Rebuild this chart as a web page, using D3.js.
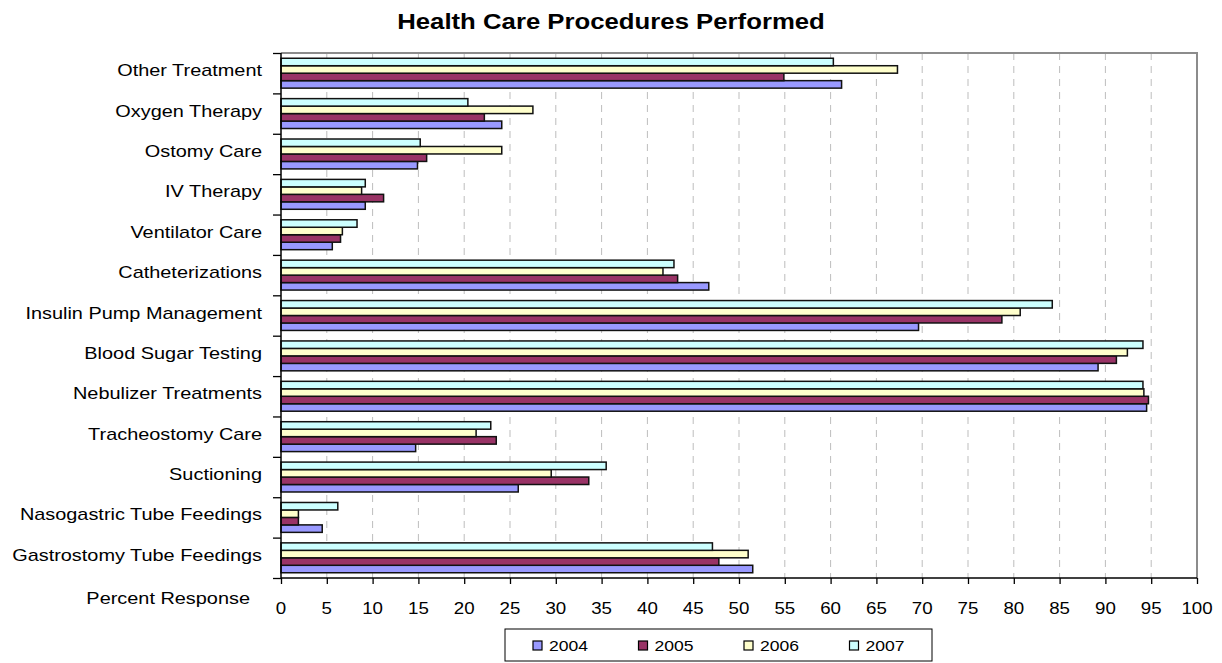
<!DOCTYPE html>
<html>
<head>
<meta charset="utf-8">
<script src="https://cdn.jsdelivr.net/npm/d3@7"></script>
<style>
	body { margin: 0; background: #fff; }
	text { font-family: "Liberation Sans", Arial, sans-serif; fill: #000; }
</style>
</head>
<body>
<div id="chart-area"></div>
<script>
// categories, top to bottom as drawn
let categories = ["Other Treatment", "Oxygen Therapy", "Ostomy Care", "IV Therapy",
	"Ventilator Care", "Catheterizations", "Insulin Pump Management", "Blood Sugar Testing",
	"Nebulizer Treatments", "Tracheostomy Care", "Suctioning", "Nasogastric Tube Feedings",
	"Gastrostomy Tube Feedings"];

let years = ["2004", "2005", "2006", "2007"];

// percent response per year, same order as categories
let values2004 = [61.2, 24.1, 14.9, 9.2, 5.6, 46.7, 69.6, 89.2, 94.5, 14.7, 25.9, 4.5, 51.5];
let values2005 = [54.9, 22.2, 15.9, 11.2, 6.5, 43.3, 78.7, 91.2, 94.7, 23.5, 33.6, 1.9, 47.8];
let values2006 = [67.3, 27.5, 24.1, 8.8, 6.7, 41.7, 80.7, 92.4, 94.2, 21.3, 29.5, 1.9, 51.0];
let values2007 = [60.3, 20.4, 15.2, 9.2, 8.3, 42.9, 84.2, 94.1, 94.1, 22.9, 35.5, 6.2, 47.1];

let xTicks = d3.range(0, 101, 5);
let colors = ["#9999ff", "#993366", "#ffffcc", "#ccffff"];

let width = 1222,
	height = 663;
let margin = {top: 53, bottom: 85, left: 281, right: 25};
let stretch = 1.17; // text in the picture is drawn a bit wide

let seriesValues = [values2004, values2005, values2006, values2007];
let rows = [];
categories.forEach((c, i) => {
	years.forEach((y, j) => {
		rows.push({category: c, year: y, value: seriesValues[j][i]});
	});
});

let svg = d3.select("#chart-area").append("svg")
	.attr("width", width)
	.attr("height", height);

let xScale = d3.scaleLinear()
	.domain([0, 100])
	.range([margin.left, width - margin.right]);

let yScale = d3.scaleBand()
	.domain(categories)
	.range([margin.top, height - margin.bottom])
	.paddingInner(0.26)
	.paddingOuter(0.13);

// inside each group 2007 sits on top
let yearScale = d3.scaleBand()
	.domain(years.slice().reverse())
	.range([0, yScale.bandwidth()]);

let colorScale = d3.scaleOrdinal().domain(years).range(colors);

// boundaries between categories for the left ticks
let boundScale = d3.scaleLinear()
	.domain([0, categories.length])
	.range([margin.top, height - margin.bottom]);

// dashed grid
svg.append("g")
	.selectAll("line")
	.data(xTicks.filter(d => d > 0 && d < 100))
	.enter()
	.append("line")
	.attr("x1", d => xScale(d))
	.attr("x2", d => xScale(d))
	.attr("y1", margin.top)
	.attr("y2", height - margin.bottom)
	.attr("stroke", "#bdbdbd")
	.attr("stroke-width", 1)
	.attr("stroke-dasharray", "7,6");

// top and right frame
svg.append("path")
	.attr("d", "M" + xScale(0) + "," + margin.top + "H" + xScale(100) + "V" + (height - margin.bottom))
	.attr("fill", "none")
	.attr("stroke", "#8c8c8c")
	.attr("stroke-width", 2);

// bars
svg.append("g")
	.selectAll("rect")
	.data(rows)
	.enter()
	.append("rect")
	.attr("x", xScale(0))
	.attr("y", d => yScale(d.category) + yearScale(d.year))
	.attr("width", d => xScale(d.value) - xScale(0))
	.attr("height", yearScale.bandwidth())
	.attr("fill", d => colorScale(d.year))
	.attr("stroke", "#111")
	.attr("stroke-width", 1.5);

// axes
let xAxis = d3.axisBottom(xScale)
	.tickValues(xTicks)
	.tickSize(6)
	.tickFormat("");

let yAxis = d3.axisLeft(boundScale)
	.tickValues(d3.range(categories.length + 1))
	.tickSize(8)
	.tickFormat("");

svg.append("g")
	.attr("class", "x-axis")
	.attr("transform", "translate(0," + (height - margin.bottom) + ")")
	.call(xAxis)
	.call(g => g.select(".domain").attr("stroke", "#000").attr("stroke-width", 1.3).attr("d", "M" + xScale(0) + ",0H" + xScale(100)))
	.call(g => g.selectAll(".tick line").attr("stroke", "#000").attr("stroke-width", 1.3));

svg.append("g")
	.attr("class", "y-axis")
	.attr("transform", "translate(" + xScale(0) + ",0)")
	.call(yAxis)
	.call(g => g.select(".domain").attr("stroke", "#000").attr("stroke-width", 1.5).attr("d", "M0," + margin.top + "V" + (height - margin.bottom)))
	.call(g => g.selectAll(".tick line").attr("stroke", "#000").attr("stroke-width", 1.3));

// x tick labels
svg.append("g")
	.selectAll("text")
	.data(xTicks)
	.enter()
	.append("text")
	.attr("transform", d => "translate(" + xScale(d) + "," + 614 + ") scale(" + stretch + ",1)")
	.attr("text-anchor", "middle")
	.attr("font-size", "16px")
	.text(d => d);

// category labels
svg.append("g")
	.selectAll("text")
	.data(categories)
	.enter()
	.append("text")
	.attr("transform", d => "translate(" + 262 + "," + (yScale(d) + yScale.bandwidth() / 2 + 3) + ") scale(" + stretch + ",1)")
	.attr("text-anchor", "end")
	.attr("font-size", "17px")
	.text(d => d);

svg.append("text")
	.attr("transform", "translate(250,604) scale(" + stretch + ",1)")
	.attr("text-anchor", "end")
	.attr("font-size", "17px")
	.text("Percent Response");

// title
svg.append("text")
	.attr("transform", "translate(611,29) scale(" + stretch + ",1)")
	.attr("text-anchor", "middle")
	.attr("font-size", "22px")
	.attr("font-weight", "bold")
	.text("Health Care Procedures Performed");

// legend
let legend = svg.append("g").attr("transform", "translate(505,629)");
legend.append("rect")
	.attr("width", 427)
	.attr("height", 32)
	.attr("fill", "#fff")
	.attr("stroke", "#000")
	.attr("stroke-width", 1);

let legendItem = legend.selectAll(".item")
	.data(years)
	.enter()
	.append("g")
	.attr("class", "item")
	.attr("transform", (d, i) => "translate(" + (28 + i * 105.5) + ",12)");

legendItem.append("rect")
	.attr("width", 9)
	.attr("height", 9)
	.attr("fill", d => colorScale(d))
	.attr("stroke", "#000")
	.attr("stroke-width", 1.2);

legendItem.append("text")
	.attr("transform", "translate(16,10) scale(" + stretch + ",1)")
	.attr("font-size", "15px")
	.text(d => d);
</script>
</body>
</html>
